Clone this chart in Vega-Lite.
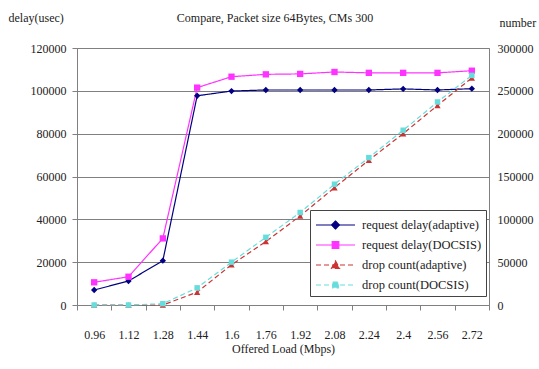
{
  "$schema": "https://vega.github.io/schema/vega-lite/v6.json",
  "width": 412,
  "height": 257,
  "autosize": {"type": "none"},
  "padding": {"left": 77, "top": 48, "right": 50, "bottom": 64},
  "background": "white",
  "config": {
    "font": "Liberation Serif",
    "view": {"stroke": "#808080", "strokeWidth": 1},
    "axis": {"labelFont": "Liberation Serif", "titleFont": "Liberation Serif", "labelFontSize": 12, "titleFontSize": 12, "titleFontWeight": "normal", "labelColor": "#222", "titleColor": "#222", "domainColor": "#808080", "tickColor": "#808080"}
  },
  "title": {"text": "Compare, Packet size 64Bytes, CMs 300", "font": "Liberation Serif", "fontSize": 12, "fontWeight": "normal", "color": "#222", "offset": 22, "dy": 36, "dx": -8},
  "datasets": {
    "d": [
      {"load": "0.96", "series": "request delay(adaptive)", "kind": "delay", "v": 7000},
      {"load": "1.12", "series": "request delay(adaptive)", "kind": "delay", "v": 11200},
      {"load": "1.28", "series": "request delay(adaptive)", "kind": "delay", "v": 20700},
      {"load": "1.44", "series": "request delay(adaptive)", "kind": "delay", "v": 97700},
      {"load": "1.6", "series": "request delay(adaptive)", "kind": "delay", "v": 99900},
      {"load": "1.76", "series": "request delay(adaptive)", "kind": "delay", "v": 100400},
      {"load": "1.92", "series": "request delay(adaptive)", "kind": "delay", "v": 100400},
      {"load": "2.08", "series": "request delay(adaptive)", "kind": "delay", "v": 100400},
      {"load": "2.24", "series": "request delay(adaptive)", "kind": "delay", "v": 100400},
      {"load": "2.4", "series": "request delay(adaptive)", "kind": "delay", "v": 100900},
      {"load": "2.56", "series": "request delay(adaptive)", "kind": "delay", "v": 100400},
      {"load": "2.72", "series": "request delay(adaptive)", "kind": "delay", "v": 101000},
      {"load": "0.96", "series": "request delay(DOCSIS)", "kind": "delay", "v": 10600},
      {"load": "1.12", "series": "request delay(DOCSIS)", "kind": "delay", "v": 13200},
      {"load": "1.28", "series": "request delay(DOCSIS)", "kind": "delay", "v": 31100},
      {"load": "1.44", "series": "request delay(DOCSIS)", "kind": "delay", "v": 101500},
      {"load": "1.6", "series": "request delay(DOCSIS)", "kind": "delay", "v": 106600},
      {"load": "1.76", "series": "request delay(DOCSIS)", "kind": "delay", "v": 107700},
      {"load": "1.92", "series": "request delay(DOCSIS)", "kind": "delay", "v": 107900},
      {"load": "2.08", "series": "request delay(DOCSIS)", "kind": "delay", "v": 108800},
      {"load": "2.24", "series": "request delay(DOCSIS)", "kind": "delay", "v": 108400},
      {"load": "2.4", "series": "request delay(DOCSIS)", "kind": "delay", "v": 108400},
      {"load": "2.56", "series": "request delay(DOCSIS)", "kind": "delay", "v": 108400},
      {"load": "2.72", "series": "request delay(DOCSIS)", "kind": "delay", "v": 109400},
      {"load": "0.96", "series": "drop count(adaptive)", "kind": "drop", "v": 0},
      {"load": "1.12", "series": "drop count(adaptive)", "kind": "drop", "v": 0},
      {"load": "1.28", "series": "drop count(adaptive)", "kind": "drop", "v": 0},
      {"load": "1.44", "series": "drop count(adaptive)", "kind": "drop", "v": 15000},
      {"load": "1.6", "series": "drop count(adaptive)", "kind": "drop", "v": 47000},
      {"load": "1.76", "series": "drop count(adaptive)", "kind": "drop", "v": 74000},
      {"load": "1.92", "series": "drop count(adaptive)", "kind": "drop", "v": 104000},
      {"load": "2.08", "series": "drop count(adaptive)", "kind": "drop", "v": 137000},
      {"load": "2.24", "series": "drop count(adaptive)", "kind": "drop", "v": 169000},
      {"load": "2.4", "series": "drop count(adaptive)", "kind": "drop", "v": 200000},
      {"load": "2.56", "series": "drop count(adaptive)", "kind": "drop", "v": 233000},
      {"load": "2.72", "series": "drop count(adaptive)", "kind": "drop", "v": 265000},
      {"load": "0.96", "series": "drop count(DOCSIS)", "kind": "drop", "v": 0},
      {"load": "1.12", "series": "drop count(DOCSIS)", "kind": "drop", "v": 0},
      {"load": "1.28", "series": "drop count(DOCSIS)", "kind": "drop", "v": 1500},
      {"load": "1.44", "series": "drop count(DOCSIS)", "kind": "drop", "v": 20000},
      {"load": "1.6", "series": "drop count(DOCSIS)", "kind": "drop", "v": 50000},
      {"load": "1.76", "series": "drop count(DOCSIS)", "kind": "drop", "v": 79000},
      {"load": "1.92", "series": "drop count(DOCSIS)", "kind": "drop", "v": 108000},
      {"load": "2.08", "series": "drop count(DOCSIS)", "kind": "drop", "v": 141000},
      {"load": "2.24", "series": "drop count(DOCSIS)", "kind": "drop", "v": 172000},
      {"load": "2.4", "series": "drop count(DOCSIS)", "kind": "drop", "v": 204000},
      {"load": "2.56", "series": "drop count(DOCSIS)", "kind": "drop", "v": 237000},
      {"load": "2.72", "series": "drop count(DOCSIS)", "kind": "drop", "v": 268000}
    ]
  },
  "data": {"name": "d"},
  "encoding": {
    "x": {
      "field": "load", "type": "ordinal", "sort": null,
      "scale": {"type": "band", "paddingInner": 0, "paddingOuter": 0},
      "axis": {"title": "Offered Load (Mbps)", "labelAngle": 0, "tickBand": "extent", "domain": false, "titlePadding": 3, "labelPadding": 19}
    }
  },
  "layer": [
    {
      "transform": [{"filter": "datum.kind === 'delay'"}],
      "encoding": {
        "y": {
          "field": "v", "type": "quantitative",
          "scale": {"domain": [0, 120000], "nice": false},
          "axis": {"title": "delay(usec)", "values": [0, 20000, 40000, 60000, 80000, 100000, 120000], "format": "d", "grid": true, "gridColor": "#808080", "gridOpacity": 1, "domain": false, "titleAngle": 0, "titleAlign": "left", "titleBaseline": "middle", "titleX": -69, "titleY": -31, "labelPadding": 6}
        }
      },
      "layer": [
        {
          "mark": {"type": "line", "strokeWidth": 1.2},
          "encoding": {
            "color": {
              "field": "series", "type": "nominal",
              "scale": {"domain": ["request delay(adaptive)", "request delay(DOCSIS)", "drop count(adaptive)", "drop count(DOCSIS)"], "range": ["#000080", "#FF33FF", "#CC3333", "#66DDDD"]},
              "legend": {
                "orient": "none", "legendX": 233, "legendY": 162, "title": null,
                "fillColor": "white", "strokeColor": "#444", "padding": 4, "rowPadding": 2,
                "symbolSize": 400, "symbolStrokeWidth": 1.2, "labelFont": "Liberation Serif", "labelFontSize": 12.5, "labelColor": "#222", "labelOffset": 26,
                "encode": {
                  "symbols": {
                    "update": {
                      "shape": {"signal": "datum.value === 'request delay(adaptive)' ? 'M-0.9,0H3M1.05,-0.4L1.45,0L1.05,0.4L0.65,0Z' : datum.value === 'request delay(DOCSIS)' ? 'M-0.9,0H3M0.72,-0.33H1.38V0.33H0.72Z' : datum.value === 'drop count(adaptive)' ? 'M-0.9,0H3M1.05,-0.4L1.45,0.33H0.65Z' : 'M-0.9,0H3M0.77,-0.28H1.33V0.28H0.77Z'"},
                      "fill": {"scale": "color", "field": "value"}
                    }
                  }
                }
              }
            },
            "strokeDash": {
              "field": "series", "type": "nominal",
              "scale": {"domain": ["request delay(adaptive)", "request delay(DOCSIS)", "drop count(adaptive)", "drop count(DOCSIS)"], "range": [[1, 0], [1, 0], [5, 3], [5, 3]]},
              "legend": null
            }
          }
        },
        {
          "transform": [{"filter": "datum.series === 'request delay(adaptive)'"}],
          "mark": {"type": "point", "filled": true, "opacity": 1, "size": 40, "shape": "diamond"},
          "encoding": {"color": {"field": "series", "type": "nominal", "legend": null}}
        },
        {
          "transform": [{"filter": "datum.series === 'request delay(DOCSIS)'"}],
          "mark": {"type": "point", "filled": true, "opacity": 1, "size": 40, "shape": "square"},
          "encoding": {"color": {"field": "series", "type": "nominal", "legend": null}}
        }
      ]
    },
    {
      "transform": [{"filter": "datum.kind === 'drop'"}],
      "encoding": {
        "y": {
          "field": "v", "type": "quantitative",
          "scale": {"domain": [0, 300000], "nice": false},
          "axis": {"orient": "right", "title": "number", "values": [0, 50000, 100000, 150000, 200000, 250000, 300000], "format": "d", "grid": false, "domain": false, "ticks": false, "labelPadding": 8, "titleAngle": 0, "titleAlign": "left", "titleBaseline": "middle", "titleX": 10, "titleY": -26}
        }
      },
      "layer": [
        {
          "mark": {"type": "line", "strokeWidth": 1.2},
          "encoding": {
            "color": {"field": "series", "type": "nominal"},
            "strokeDash": {"field": "series", "type": "nominal", "legend": null}
          }
        },
        {
          "transform": [{"filter": "datum.series === 'drop count(adaptive)'"}],
          "mark": {"type": "point", "filled": true, "opacity": 1, "size": 40, "shape": "triangle-up"},
          "encoding": {"color": {"field": "series", "type": "nominal", "legend": null}}
        },
        {
          "transform": [{"filter": "datum.series === 'drop count(DOCSIS)'"}],
          "mark": {"type": "point", "filled": true, "opacity": 1, "size": 30, "shape": "square"},
          "encoding": {"color": {"field": "series", "type": "nominal", "legend": null}}
        }
      ]
    }
  ],
  "resolve": {"scale": {"y": "independent"}}
}
